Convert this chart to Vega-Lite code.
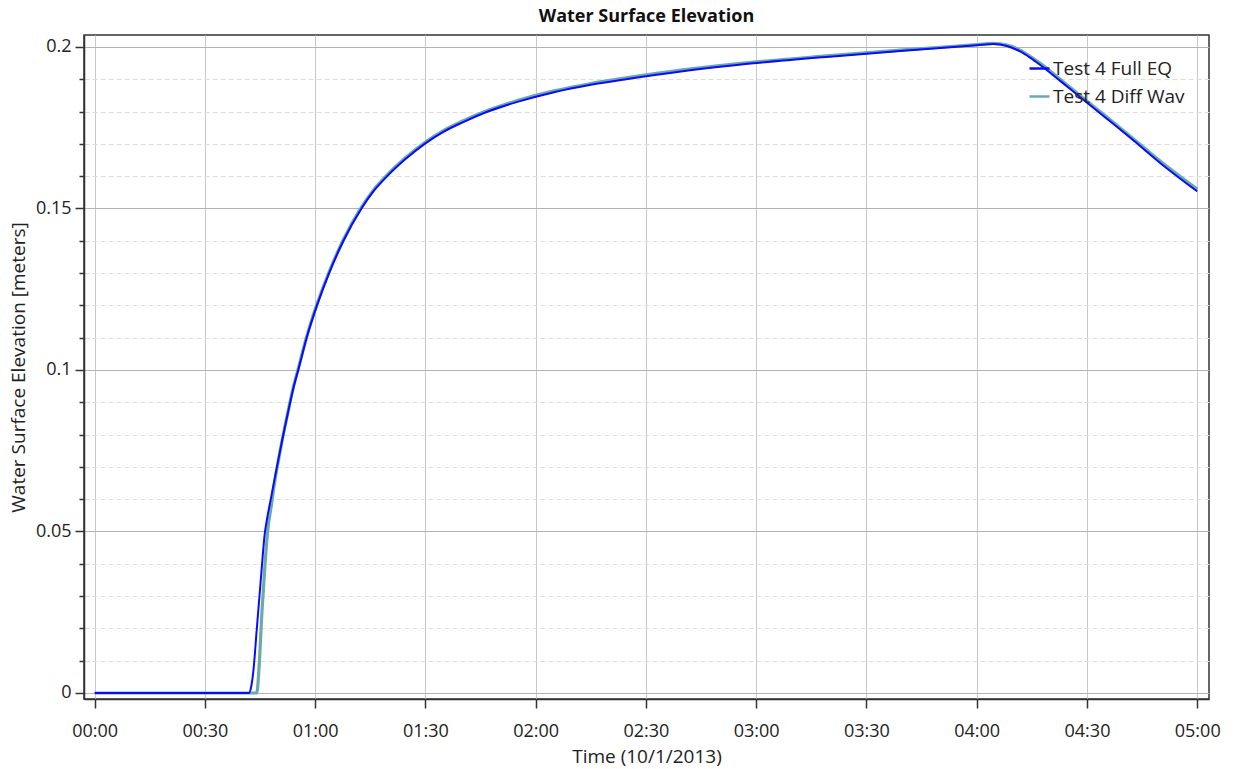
{
  "$schema": "https://vega.github.io/schema/vega-lite/v6.json",
  "autosize": "none",
  "width": 1125,
  "height": 664,
  "padding": {"left": 84, "top": 35, "right": 26, "bottom": 70},
  "background": "white",
  "title": {"text": "Water Surface Elevation", "fontSize": 18, "fontWeight": "bold", "color": "#111", "offset": 9, "anchor": "middle"},
  "config": {
    "font": "Open Sans",
    "view": {"stroke": "#333", "strokeWidth": 1.5}
  },
  "datasets": {
    "full": [
      {"t": 0, "v": 0}, {"t": 42.0, "v": 0}, {"t": 42.6, "v": 0.002}, {"t": 43.2, "v": 0.007},
      {"t": 44.1, "v": 0.0196}, {"t": 45.2, "v": 0.035}, {"t": 46.3, "v": 0.0495}, {"t": 47.0, "v": 0.0545},
      {"t": 48.0, "v": 0.0605}, {"t": 49.0, "v": 0.0665}, {"t": 50.0, "v": 0.0724}, {"t": 51.0, "v": 0.0781},
      {"t": 52.0, "v": 0.0836}, {"t": 53.0, "v": 0.0889}, {"t": 54.0, "v": 0.094}, {"t": 55.4, "v": 0.1},
      {"t": 57.7, "v": 0.11}, {"t": 60.5, "v": 0.12}, {"t": 63.8, "v": 0.13}, {"t": 67.7, "v": 0.14},
      {"t": 72.6, "v": 0.15}, {"t": 76.0, "v": 0.1555}, {"t": 79.6, "v": 0.16}, {"t": 84.5, "v": 0.1652},
      {"t": 89.8, "v": 0.17}, {"t": 95.0, "v": 0.1738}, {"t": 100.0, "v": 0.1766}, {"t": 107.0, "v": 0.18},
      {"t": 115.0, "v": 0.183}, {"t": 125.0, "v": 0.186}, {"t": 135.0, "v": 0.1883}, {"t": 145.0, "v": 0.1901},
      {"t": 160.0, "v": 0.1925}, {"t": 180.0, "v": 0.195}, {"t": 200.0, "v": 0.197}, {"t": 220.0, "v": 0.1988},
      {"t": 240.0, "v": 0.2005}, {"t": 244.5, "v": 0.2009}, {"t": 248.2, "v": 0.2003}, {"t": 251.8, "v": 0.1986},
      {"t": 254.5, "v": 0.1967}, {"t": 257.2, "v": 0.1945}, {"t": 262.7, "v": 0.1895}, {"t": 268.1, "v": 0.1845},
      {"t": 275.4, "v": 0.1778}, {"t": 282.6, "v": 0.1711}, {"t": 289.9, "v": 0.1641}, {"t": 300, "v": 0.1553}
    ],
    "diff": [
      {"t": 0, "v": 0}, {"t": 44.1, "v": 0}, {"t": 44.8, "v": 0.0093}, {"t": 45.5, "v": 0.0247},
      {"t": 46.3, "v": 0.039}, {"t": 47.2, "v": 0.0515}, {"t": 48.0, "v": 0.0575}, {"t": 49.0, "v": 0.0655},
      {"t": 50.0, "v": 0.072}, {"t": 51.0, "v": 0.0782}, {"t": 52.0, "v": 0.0838}, {"t": 53.0, "v": 0.0892},
      {"t": 54.0, "v": 0.0944}, {"t": 55.4, "v": 0.1004},
      {"t": 57.7, "v": 0.1104}, {"t": 60.5, "v": 0.1204}, {"t": 63.8, "v": 0.1304}, {"t": 67.7, "v": 0.1404},
      {"t": 72.6, "v": 0.1504}, {"t": 76.0, "v": 0.1559}, {"t": 79.6, "v": 0.1604}, {"t": 84.5, "v": 0.1656},
      {"t": 89.8, "v": 0.1704}, {"t": 95.0, "v": 0.1742}, {"t": 100.0, "v": 0.177}, {"t": 107.0, "v": 0.1804},
      {"t": 115.0, "v": 0.1834}, {"t": 125.0, "v": 0.1864}, {"t": 135.0, "v": 0.1887}, {"t": 145.0, "v": 0.1905},
      {"t": 160.0, "v": 0.1929}, {"t": 180.0, "v": 0.1954}, {"t": 200.0, "v": 0.1973}, {"t": 220.0, "v": 0.1991},
      {"t": 240.0, "v": 0.2007}, {"t": 244.5, "v": 0.2011}, {"t": 248.2, "v": 0.2006}, {"t": 251.8, "v": 0.199},
      {"t": 254.5, "v": 0.1971}, {"t": 257.2, "v": 0.195}, {"t": 262.7, "v": 0.19}, {"t": 268.1, "v": 0.185},
      {"t": 275.4, "v": 0.1783}, {"t": 282.6, "v": 0.1716}, {"t": 289.9, "v": 0.1647}, {"t": 300, "v": 0.156}
    ]
  },
  "encoding": {
    "x": {
      "field": "t", "type": "quantitative",
      "scale": {"domain": [-2.9, 303.2], "nice": false, "zero": false},
      "axis": {
        "title": "Time (10/1/2013)",
        "values": [0, 30, 60, 90, 120, 150, 180, 210, 240, 270, 300],
        "labelExpr": "utcFormat(datum.value * 60000, '%H:%M')",
        "grid": true, "gridColor": "#c8c8c8", "gridWidth": 1,
        "tickSize": 9, "tickColor": "#333", "tickWidth": 1.5,
        "domainColor": "#333", "domainWidth": 1.5,
        "labelFontSize": 18, "labelColor": "#222", "labelPadding": 14, "labelFlush": false,
        "titleFontSize": 19, "titleFontWeight": "normal", "titleColor": "#222", "titlePadding": 7
      }
    },
    "y": {
      "field": "v", "type": "quantitative",
      "scale": {"domain": [-0.00186, 0.2037], "nice": false, "zero": false},
      "axis": {
        "title": "Water Surface Elevation [meters]",
        "values": [0, 0.01, 0.02, 0.03, 0.04, 0.05, 0.06, 0.07, 0.08, 0.09, 0.1, 0.11, 0.12, 0.13, 0.14, 0.15, 0.16, 0.17, 0.18, 0.19, 0.2],
        "labelExpr": "abs(datum.value * 20 - round(datum.value * 20)) < 0.000001 ? format(datum.value, '~g') : ''",
        "grid": true,
        "gridColor": {"condition": {"test": "abs(datum.value * 20 - round(datum.value * 20)) < 0.000001", "value": "#b4b4b4"}, "value": "#dedede"},
        "gridDash": {"condition": {"test": "abs(datum.value * 20 - round(datum.value * 20)) < 0.000001", "value": []}, "value": [5, 3]},
        "tickSize": {"condition": {"test": "abs(datum.value * 20 - round(datum.value * 20)) < 0.000001", "value": 9}, "value": 5},
        "tickColor": "#333", "tickWidth": 1.5,
        "domainColor": "#333", "domainWidth": 1.5,
        "labelFontSize": 18, "labelColor": "#222", "labelPadding": 4,
        "titleFontSize": 19, "titleFontWeight": "normal", "titleColor": "#222", "titlePadding": 7
      }
    },
    "color": {
      "field": "series", "type": "nominal",
      "scale": {"domain": ["Test 4 Full EQ", "Test 4 Diff Wav"], "range": ["#0a0aff", "#6aaaa8"]},
      "legend": {
        "title": null, "orient": "none", "legendX": 944, "legendY": 22,
        "symbolType": "stroke", "symbolSize": 400, "symbolStrokeWidth": 2.5,
        "labelFontSize": 19, "labelColor": "#222", "labelOffset": 2, "rowPadding": 6,
        "labelLimit": 300
      }
    }
  },
  "layer": [
    {
      "data": {"name": "diff"},
      "transform": [{"calculate": "'Test 4 Diff Wav'", "as": "series"}],
      "mark": {"type": "line", "strokeWidth": 3.2, "interpolate": "monotone", "clip": true}
    },
    {
      "data": {"name": "full"},
      "transform": [{"calculate": "'Test 4 Full EQ'", "as": "series"}],
      "mark": {"type": "line", "strokeWidth": 2, "interpolate": "monotone", "clip": true}
    }
  ]
}
